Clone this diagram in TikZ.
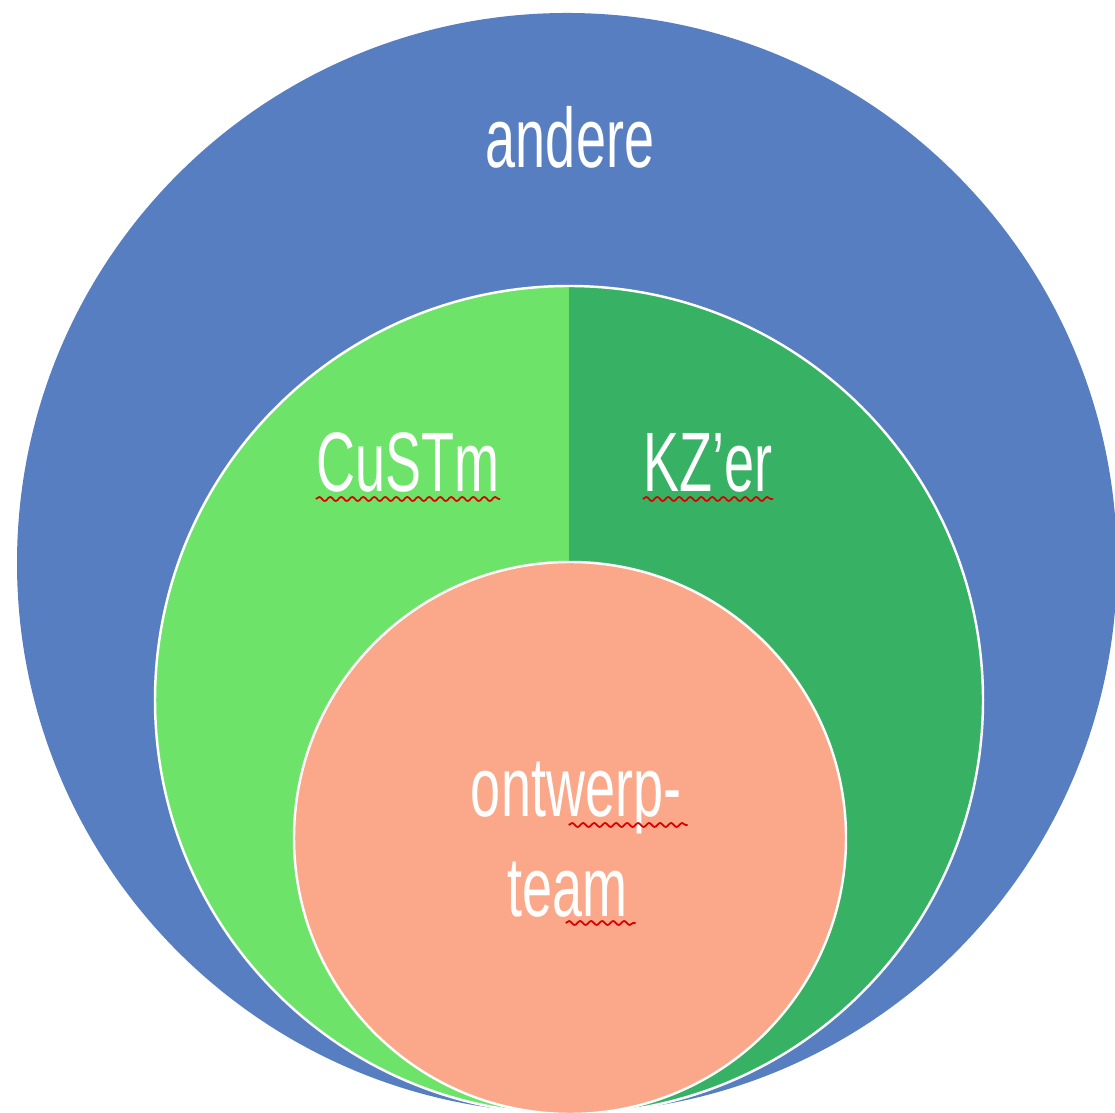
\documentclass[tikz,border=0pt]{standalone}
\usepackage{xcolor}
\usepackage{fontspec}
\newfontfamily\condfont[FakeStretch=0.64]{Liberation Sans}
\usepackage{tikz}
\usetikzlibrary{decorations.pathmorphing}

\definecolor{andereblue}{HTML}{587EC2}
\definecolor{custmgreen}{HTML}{6EE36A}
\definecolor{kzgreen}{HTML}{37B265}
\definecolor{teamsalmon}{HTML}{FBA88A}

\begin{document}
\begin{tikzpicture}[
  lbl/.style={text=white, anchor=base, inner sep=0pt, font=\condfont\fontsize{24}{29}\selectfont},
  spell/.style={red!85!black, line width=0.5pt, decorate,
    decoration={snake, segment length=1.1mm, amplitude=0.2mm}}]
\useasboundingbox (0,0) rectangle (11.15,11.12);
% Outer circle
\fill[andereblue] (5.67,5.49) circle (5.50);
% Middle circle, two halves
\begin{scope}
\clip (5.69,4.12) circle (4.14);
\fill[custmgreen] (1.4,0) rectangle (5.69,8.4);
\fill[kzgreen] (5.69,0) rectangle (10,8.4);
\end{scope}
\draw[white, line width=0.7pt] (5.69,4.12) circle (4.14);
% Inner circle
\filldraw[fill=teamsalmon, draw=white, line width=0.7pt] (5.70,2.74) circle (2.76);

% Labels
\node[lbl] (andere) at (5.70, 9.44) {andere};
\node[lbl] (custm) at (4.08, 6.20) {CuSTm};
\node[lbl] (kzer) at (7.08, 6.20) {KZ’er};
\node[lbl] (ontwerp) at (5.76, 2.95) {ontwerp-};
\node[lbl] (team) at (5.67, 1.95) {team};

% Spelling marks
\draw[spell] ([yshift=-0.07cm]custm.base west) -- ([yshift=-0.07cm]custm.base east);
\draw[spell] ([yshift=-0.07cm]kzer.base west) -- ([yshift=-0.07cm]kzer.base east);
\draw[spell] ([shift={(-1.13,-0.08)}]ontwerp.base east) -- ([shift={(0.06,-0.08)}]ontwerp.base east);
\draw[spell] ([shift={(-0.62,-0.06)}]team.base east) -- ([shift={(0.08,-0.06)}]team.base east);
\end{tikzpicture}
\end{document}
